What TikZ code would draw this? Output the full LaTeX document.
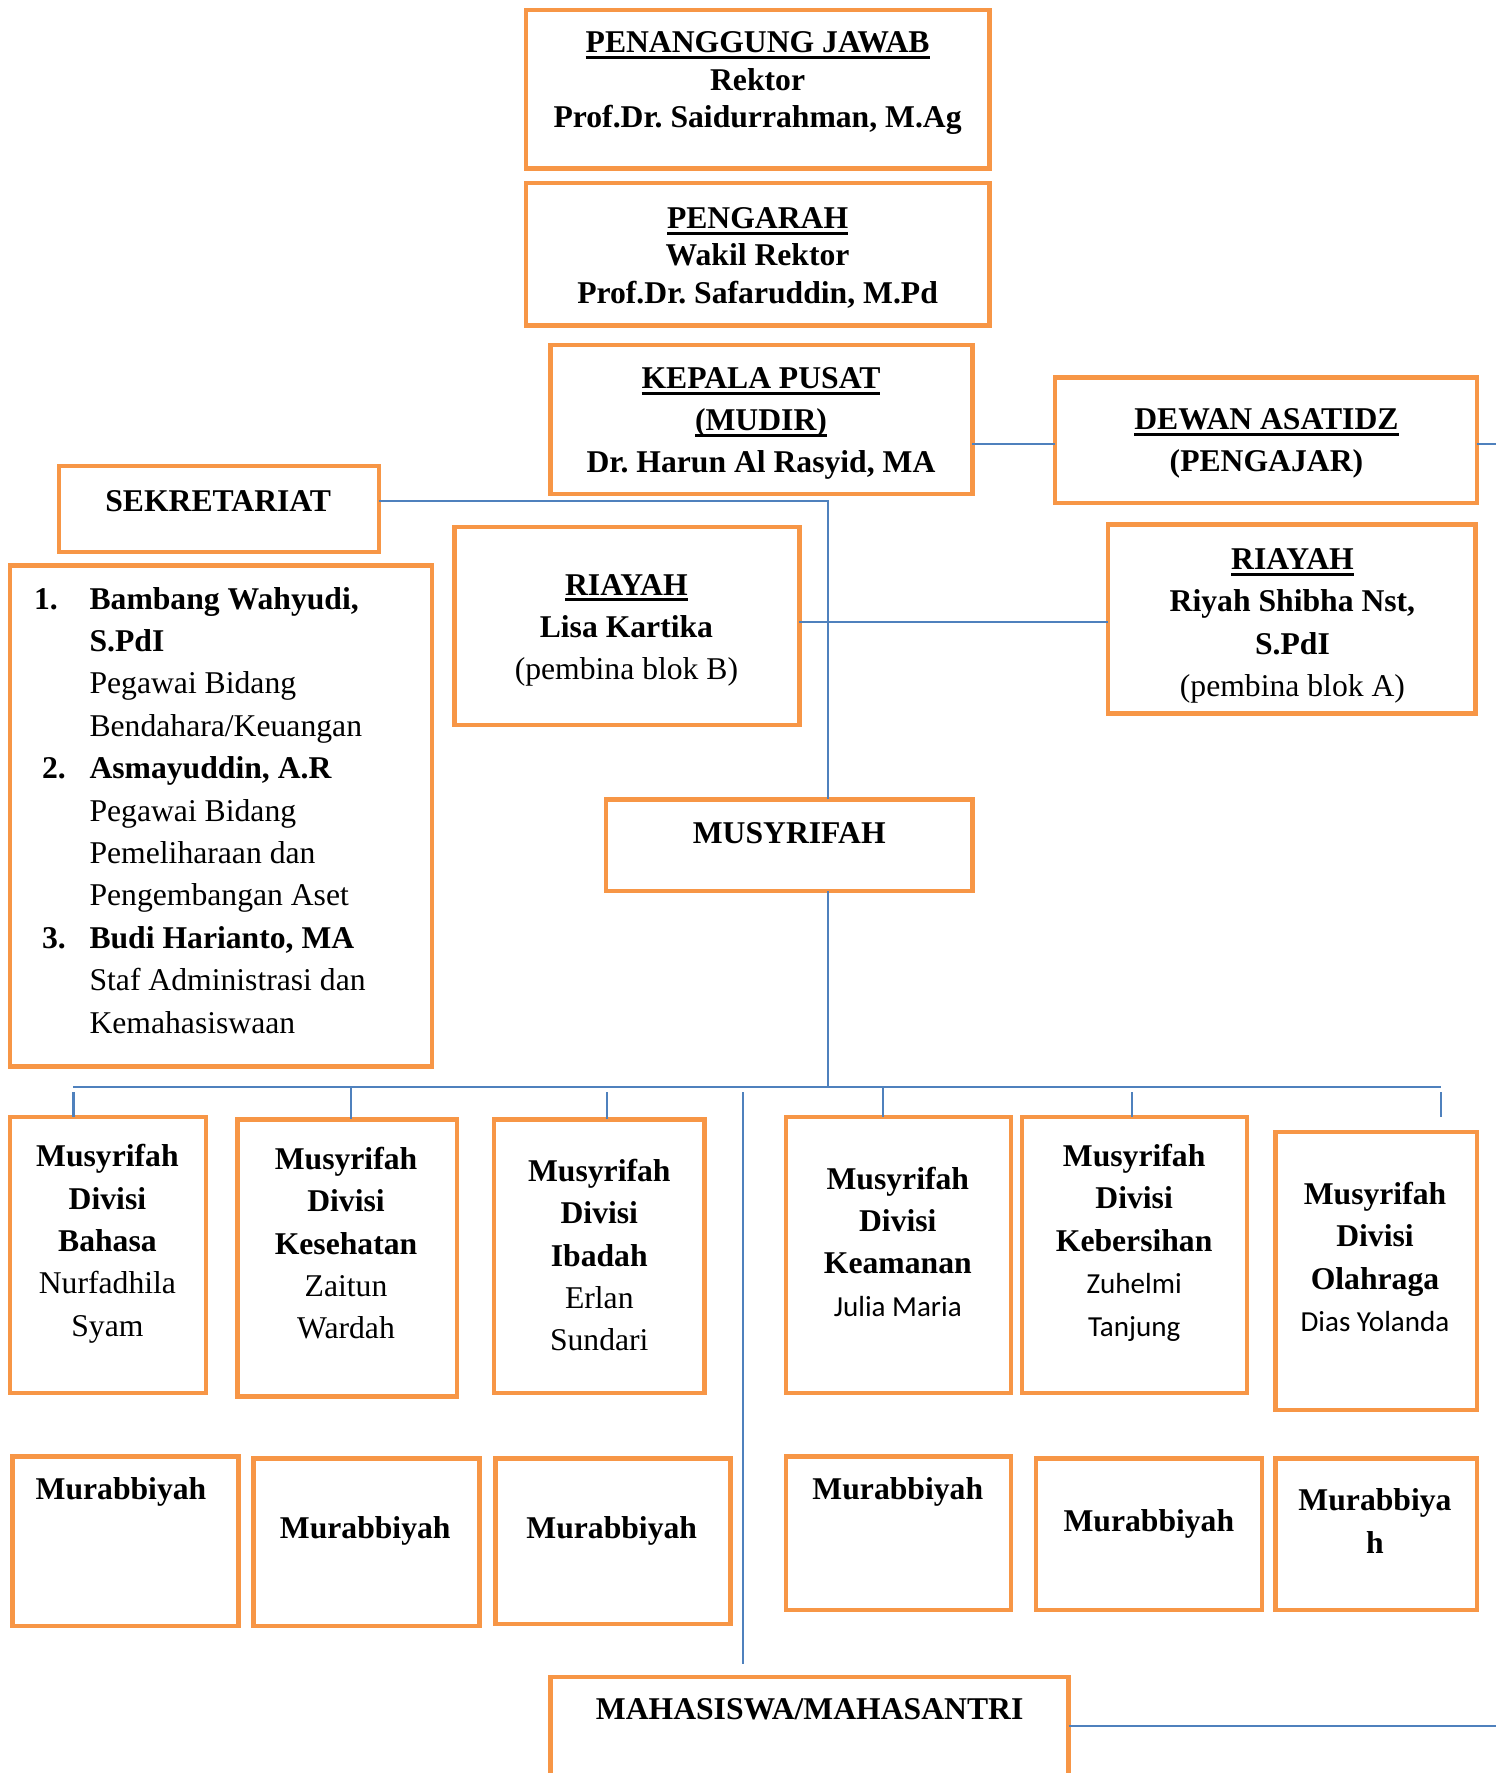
\documentclass[tikz,border=0pt]{standalone}
\usepackage{fontspec}
\setmainfont{Liberation Serif}
\newfontfamily\calfont{Carlito}
\frenchspacing
\definecolor{orW}{RGB}{247,150,70}
\definecolor{blW}{RGB}{79,129,189}
\newcommand\myul[1]{\leavevmode\setbox0=\hbox{#1}\rlap{\rule[-5.5pt]{\wd0}{2.6pt}}\box0}
\newcommand\mybox[5]{\node[obox, minimum width={#4-#2}, minimum height={#5-#3}] (#1) at ({(#2+#4)/2},{-(#3+#5)/2}) {};}
\tikzset{
  obox/.style={draw=orW, line width=4pt, inner sep=0pt, outer sep=0pt, fill=white},
  conn/.style={draw=blW, line width=1.8pt},
  tx/.style={align=center, inner sep=0pt, font=\fontsize{28}{37.5}\selectfont\frenchspacing},
  txtop/.style={align=center, inner sep=0pt, font=\fontsize{28}{33}\selectfont\frenchspacing},
}
\begin{document}
\begin{tikzpicture}[x=1pt,y=1pt]
\useasboundingbox (0,0) rectangle (1323,-1568);
\clip (0,0) rectangle (1323,-1568);
\fill[white] (0,0) rectangle (1323,-1568);
% boxes
\mybox{pj}{465}{9}{875}{149}
\mybox{pg}{465}{162}{875}{288}
\mybox{kp}{487}{305}{860}{437}
\mybox{dw}{933}{334}{1306}{445}
\mybox{sk}{52}{412}{335}{488}
\mybox{ls}{9}{500}{382}{943}
\mybox{rb}{402}{466}{707}{641}
\mybox{ra}{980}{464}{1305}{631}
\mybox{mu}{536}{707}{860}{788}
\mybox{b1}{9}{988}{182}{1232}
\mybox{b2}{210}{990}{404}{1235}
\mybox{b3}{437}{990}{623}{1232}
\mybox{b4}{695}{988}{894}{1232}
\mybox{b5}{904}{988}{1103}{1232}
\mybox{b6}{1128}{1001}{1306}{1247}
\mybox{m1}{11}{1288}{211}{1438}
\mybox{m2}{224}{1290}{424}{1438}
\mybox{m3}{438}{1290}{646}{1436}
\mybox{m4}{695}{1288}{894}{1424}
\mybox{m5}{916}{1290}{1116}{1424}
\mybox{m6}{1128}{1290}{1306}{1424}
\mybox{ms}{487}{1483}{945}{1610}
% texts
\node[txtop] (pjt) at (670,-73.5) {\bfseries\myul{PENANGGUNG JAWAB}\\\bfseries Rektor\\\bfseries Prof.Dr. Saidurrahman, M.Ag};
\node[txtop] (pgt) at (670,-228) {\bfseries\myul{PENGARAH}\\\bfseries Wakil Rektor\\\bfseries Prof.Dr. Safaruddin, M.Pd};
\node[tx, font=\fontsize{28}{37}\selectfont\frenchspacing] (kpt) at (673,-374.5) {\bfseries\myul{KEPALA PUSAT}\\\bfseries\myul{(MUDIR)}\\\bfseries Dr. Harun Al Rasyid, MA};
\node[tx, font=\fontsize{28}{37}\selectfont\frenchspacing] (dwt) at (1120,-392) {\bfseries\myul{DEWAN ASATIDZ}\\\bfseries (PENGAJAR)};
\node[tx] (skt) at (193,-443) {\bfseries SEKRETARIAT};
\node[tx, align=left, anchor=west] (lst) at (30,-716.5) {%
\makebox[49pt][l]{\bfseries 1.}\textbf{Bambang Wahyudi,}\\
\hspace*{49pt}\textbf{S.PdI}\\
\hspace*{49pt}Pegawai Bidang\\
\hspace*{49pt}Bendahara/Keuangan\\
\hspace*{7pt}\makebox[42pt][l]{\bfseries 2.}\textbf{Asmayuddin, A.R}\\
\hspace*{49pt}Pegawai Bidang\\
\hspace*{49pt}Pemeliharaan dan\\
\hspace*{49pt}Pengembangan Aset\\
\hspace*{7pt}\makebox[42pt][l]{\bfseries 3.}\textbf{Budi Harianto, MA}\\
\hspace*{49pt}Staf Administrasi dan\\
\hspace*{49pt}Kemahasiswaan};
\node[tx] (rbt) at (554,-557.5) {\bfseries\myul{RIAYAH}\\\bfseries Lisa Kartika\\(pembina blok B)};
\node[tx, font=\fontsize{28}{37.3}\selectfont\frenchspacing] (rat) at (1143,-553.5) {\bfseries\myul{RIAYAH}\\\bfseries Riyah Shibha Nst,\\\bfseries S.PdI\\(pembina blok A)};
\node[tx] (mut) at (698,-737) {\bfseries MUSYRIFAH};
\node[tx] (b1t) at (95,-1100) {\bfseries Musyrifah\\\bfseries Divisi\\\bfseries Bahasa\\Nurfadhila\\Syam};
\node[tx] (b2t) at (306,-1099.5) {\bfseries Musyrifah\\\bfseries Divisi\\\bfseries Kesehatan\\Zaitun\\Wardah};
\node[tx] (b3t) at (530,-1110) {\bfseries Musyrifah\\\bfseries Divisi\\\bfseries Ibadah\\Erlan\\Sundari};
\node[tx] (b4t) at (794,-1098) {\bfseries Musyrifah\\\bfseries Divisi\\\bfseries Keamanan\\{\calfont\fontsize{25.7}{37}\selectfont Julia Maria}};
\node[tx] (b5t) at (1003,-1099) {\bfseries Musyrifah\\\bfseries Divisi\\\bfseries Kebersihan\\{\calfont\fontsize{25.7}{37}\selectfont Zuhelmi}\\{\calfont\fontsize{25.7}{37}\selectfont Tanjung}};
\node[tx] (b6t) at (1216,-1111.5) {\bfseries Musyrifah\\\bfseries Divisi\\\bfseries Olahraga\\{\calfont\fontsize{25.7}{37}\selectfont Dias Yolanda}};
\node[tx] (m1t) at (107,-1319) {\bfseries Murabbiyah};
\node[tx] (m2t) at (323,-1354) {\bfseries Murabbiyah};
\node[tx] (m3t) at (541,-1354) {\bfseries Murabbiyah};
\node[tx] (m4t) at (794,-1319) {\bfseries Murabbiyah};
\node[tx] (m5t) at (1016,-1348) {\bfseries Murabbiyah};
\node[tx] (m6t) at (1216,-1345) {\bfseries Murabbiya\\\bfseries h};
\node[tx] (mst) at (716,-1512) {\bfseries MAHASISWA/MAHASANTRI};
% named coordinates
\coordinate (dwE) at (1323,-393);
\coordinate (sp) at (732,-443);
\coordinate (busL) at (65,-961);
\coordinate (busR) at (1274,-961);
\coordinate (v1) at (657,-966);
\coordinate (msR) at (1323,-1526);
\coordinate (t1) at (65,-966);
\coordinate (t2) at (310,-961);
\coordinate (t3) at (537,-966);
\coordinate (t4) at (781,-961);
\coordinate (t5) at (1001,-966);
\coordinate (t6) at (1274,-966);
% connectors
\draw[conn] (kp.east |- 0,-393) -- (dw.west |- 0,-393);
\draw[conn] (dw.east |- dwE) -- (dwE);
\draw[conn] (sk.east |- sp) -- (sp) -- (sp |- mu.north);
\draw[conn] (rb.east |- 0,-550) -- (ra.west |- 0,-550);
\draw[conn] (sp |- mu.south) -- (sp |- busL);
\draw[conn] (busL) -- (busR);
\draw[conn] (t1) -- (t1 |- b1.north);
\draw[conn] (t2) -- (t2 |- b2.north);
\draw[conn] (t3) -- (t3 |- b3.north);
\draw[conn] (t4) -- (t4 |- b4.north);
\draw[conn] (t5) -- (t5 |- b5.north);
\draw[conn] (t6) -- ([yshift=13pt]t6 |- b6.north);
\draw[conn] (v1) -- ([yshift=11pt]v1 |- ms.north);
\draw[conn] (ms.east |- msR) -- (msR);
\end{tikzpicture}
\end{document}
